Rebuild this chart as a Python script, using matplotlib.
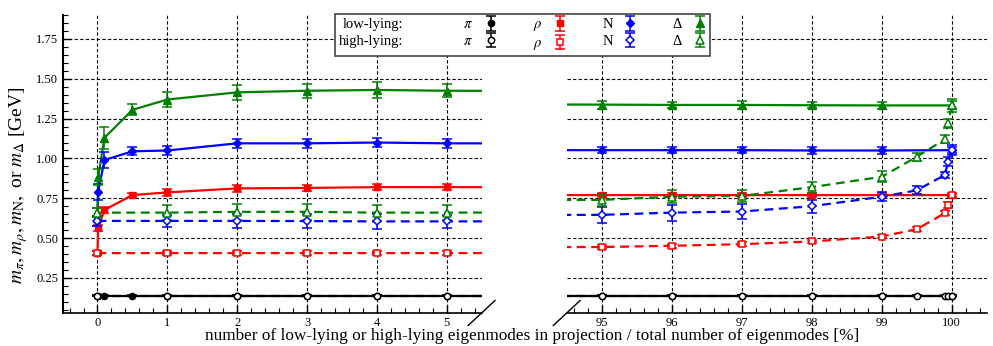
import matplotlib
matplotlib.use("Agg")
import matplotlib.pyplot as plt
from matplotlib.lines import Line2D
from matplotlib.ticker import MultipleLocator, FormatStrFormatter

plt.rcParams['font.family'] = ['Liberation Serif', 'DejaVu Serif']
plt.rcParams['mathtext.fontset'] = 'stix'

# low-lying modes (solid lines, filled symbols)
x_low = [0, 0.01, 0.1, 0.5, 1, 2, 3, 4, 5, 95, 96, 97, 98, 99, 100]
pi_low = [0.138, 0.138, 0.138, 0.138, 0.138, 0.138, 0.138, 0.138, 0.138,
          0.138, 0.138, 0.138, 0.138, 0.138, 0.138]
pi_low_err = [0.004] * 15
rho_low = [0.406, 0.563, 0.677, 0.770, 0.787, 0.812, 0.815, 0.820, 0.820,
           0.770, 0.770, 0.770, 0.770, 0.770, 0.770]
rho_low_err = [0.015, 0.02, 0.02, 0.015, 0.02, 0.02, 0.02, 0.02, 0.02,
               0.015, 0.015, 0.015, 0.015, 0.015, 0.01]
n_low = [0.608, 0.79, 0.99, 1.045, 1.05, 1.095, 1.095, 1.10, 1.095,
         1.052, 1.052, 1.052, 1.05, 1.05, 1.052]
n_low_err = [0.03, 0.05, 0.05, 0.025, 0.03, 0.03, 0.03, 0.03, 0.03,
             0.02, 0.02, 0.02, 0.02, 0.02, 0.02]
d_low = [0.66, 0.885, 1.13, 1.305, 1.37, 1.415, 1.425, 1.43, 1.425,
         1.338, 1.336, 1.336, 1.334, 1.333, 1.333]
d_low_err = [0.03, 0.05, 0.07, 0.035, 0.045, 0.045, 0.045, 0.05, 0.04,
             0.025, 0.02, 0.025, 0.02, 0.02, 0.025]

# high-lying modes (dashed lines, open symbols)
x_high = [0, 1, 2, 3, 4, 5, 95, 96, 97, 98, 99, 99.5, 99.9, 99.95, 100]
pi_high = [0.138, 0.138, 0.138, 0.138, 0.138, 0.138, 0.138, 0.138, 0.138,
           0.138, 0.138, 0.138, 0.138, 0.138, 0.138]
pi_high_err = [0.004] * 15
rho_high = [0.406, 0.406, 0.406, 0.406, 0.406, 0.406, 0.444, 0.452, 0.462,
            0.479, 0.51, 0.556, 0.656, 0.708, 0.771]
rho_high_err = [0.015, 0.015, 0.015, 0.015, 0.015, 0.015, 0.012, 0.012, 0.012,
                0.012, 0.012, 0.012, 0.012, 0.02, 0.015]
n_high = [0.608, 0.608, 0.608, 0.607, 0.605, 0.605, 0.646, 0.66, 0.667,
          0.70, 0.76, 0.80, 0.896, 0.98, 1.052]
n_high_err = [0.03, 0.04, 0.045, 0.045, 0.045, 0.04, 0.05, 0.05, 0.045,
              0.04, 0.03, 0.025, 0.02, 0.03, 0.03]
d_high = [0.66, 0.66, 0.665, 0.665, 0.66, 0.66, 0.74, 0.76, 0.765,
          0.82, 0.885, 1.01, 1.12, 1.22, 1.333]
d_high_err = [0.03, 0.045, 0.05, 0.05, 0.05, 0.045, 0.04, 0.04, 0.04,
              0.035, 0.035, 0.025, 0.025, 0.03, 0.04]

series = [
    ('$\\pi$', 'black', 'o', pi_low, pi_low_err, pi_high, pi_high_err),
    ('$\\rho$', 'red', 's', rho_low, rho_low_err, rho_high, rho_high_err),
    ('N', 'blue', 'D', n_low, n_low_err, n_high, n_high_err),
    ('\u0394', 'green', '^', d_low, d_low_err, d_high, d_high_err),
]
msize = {'o': 4.5, 's': 4.5, 'D': 4.3, '^': 5.2}

fig = plt.figure(figsize=(9.93, 3.46), dpi=100)
ax1 = fig.add_axes([0.063, 0.0954, 0.422, 0.861])
ax2 = fig.add_axes([0.5707, 0.0954, 0.423, 0.861])

handles = {}
for ax in (ax1, ax2):
    for label, col, mk, lo, lo_err, hi, hi_err in series:
        ax.plot(x_low, lo, color=col, lw=1.6, zorder=3)
        h_lo = ax.errorbar(x_low, lo, yerr=lo_err, fmt=mk, color=col, ms=msize[mk],
                           mfc=col, mec=col, elinewidth=1.1, capsize=3.5, capthick=1.1,
                           zorder=4)
        ax.plot(x_high, hi, color=col, lw=1.6, ls=(0, (4, 2.5)), zorder=3)
        h_hi = ax.errorbar(x_high, hi, yerr=hi_err, fmt=mk, color=col, ms=msize[mk],
                           mfc='white', mec=col, mew=1.1, elinewidth=1.1, capsize=3.5,
                           capthick=1.1, zorder=5)
        handles[label] = (h_lo, h_hi)

    ax.set_ylim(0.03, 1.9)
    ax.yaxis.set_major_locator(MultipleLocator(0.25))
    ax.yaxis.set_minor_locator(MultipleLocator(0.05))
    ax.xaxis.set_major_locator(MultipleLocator(1))
    ax.xaxis.set_minor_locator(MultipleLocator(0.2))
    ax.grid(True, which='major', color='black', ls=(0, (3, 2)), lw=0.8)
    ax.set_axisbelow(True)
    ax.spines['top'].set_visible(False)
    ax.spines['right'].set_visible(False)
    ax.tick_params(which='both', direction='in', labelsize=9, pad=3,
                   top=False, right=False)
    ax.tick_params(which='major', length=6, width=1)
    ax.tick_params(which='minor', length=3.5, width=0.8)
    ax.spines['bottom'].set_linewidth(1.2)

ax1.set_xlim(-0.5, 5.5)
ax2.set_xlim(94.5, 100.5)
ax1.yaxis.set_major_formatter(FormatStrFormatter('%.2f'))
ax1.spines['left'].set_linewidth(1.5)
ax2.spines['left'].set_visible(False)
ax2.tick_params(axis='y', which='both', left=False, labelleft=False)

# break marks on the x axis
dx, dy = 0.032, 0.042
ax1.plot([1 - dx, 1 + dx], [-dy, dy], transform=ax1.transAxes, color='black',
         lw=1, clip_on=False)
ax2.plot([-dx, dx], [-dy, dy], transform=ax2.transAxes, color='black',
         lw=1, clip_on=False)

ax1.set_ylabel('$m_\\pi, m_\\rho, m_\\mathrm{N},$ or $m_\\Delta$ [GeV]', fontsize=14)
ax1.yaxis.set_label_coords(-0.078, 0.43)
fig.text(0.536, 0.006, 'number of low-lying or high-lying eigenmodes in projection / '
         'total number of eigenmodes [%]', ha='center', va='bottom', fontsize=12.4)

blank = Line2D([], [], ls='none')
leg_handles = [blank, blank]
leg_labels = ['low-lying:', 'high-lying:']
for label, *_ in series:
    leg_handles += list(handles[label])
    leg_labels += [label, label]
leg = fig.legend(leg_handles, leg_labels, ncol=5, markerfirst=False,
                 loc='upper center', bbox_to_anchor=(0.526, 0.96), fontsize=10.5,
                 fancybox=False, framealpha=1, edgecolor='#444444',
                 columnspacing=2.5, handletextpad=0.8, handlelength=0.8,
                 labelspacing=0.23, borderpad=0.3, borderaxespad=0)
leg.get_frame().set_linewidth(1.2)

fig.savefig('out.png', dpi=100)
